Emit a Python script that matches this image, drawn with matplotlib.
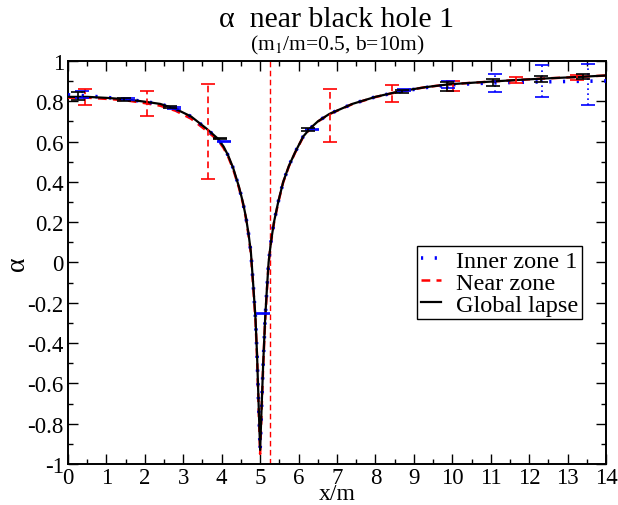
import matplotlib
matplotlib.use("Agg")
import matplotlib.pyplot as plt
from matplotlib.ticker import MultipleLocator

plt.rcParams.update({
    "font.family": ["Liberation Serif", "DejaVu Serif"],
    "mathtext.fontset": "stix",
    "font.size": 16,
    "axes.linewidth": 1.4,
    "xtick.direction": "in",
    "ytick.direction": "in",
    "xtick.top": True,
    "ytick.right": True,
    "xtick.major.size": 7,
    "ytick.major.size": 7,
    "xtick.minor.size": 3.5,
    "ytick.minor.size": 3.5,
    "xtick.major.width": 1.0,
    "ytick.major.width": 1.0,
    "xtick.minor.width": 1.0,
    "ytick.minor.width": 1.0,
})

# ---------------------------------------------------------------- data
x_curve = [0.0, 0.5, 1.0, 1.5, 2.0, 2.4, 2.8, 3.2, 3.6, 3.91, 4.05, 4.17,
           4.3, 4.45, 4.55, 4.63, 4.7, 4.76, 4.82, 4.88, 4.92, 4.96, 5.0,
           5.04, 5.08, 5.13, 5.17, 5.22, 5.28, 5.36, 5.47, 5.6, 5.75, 5.91,
           6.12, 6.3, 6.5, 6.8, 7.4, 8.0, 8.6, 9.3, 9.9, 10.6, 11.2, 11.9,
           12.5, 13.2, 14.0]
global_lapse = [0.822, 0.822, 0.817, 0.810, 0.798, 0.787, 0.762, 0.725, 0.665,
                0.613, 0.575, 0.530, 0.468, 0.375, 0.300, 0.225, 0.140, 0.050,
                -0.110, -0.280, -0.460, -0.700, -0.930, -0.710, -0.500, -0.280,
                -0.150, 0.000, 0.100, 0.200, 0.300, 0.400, 0.480, 0.547, 0.625,
                0.665, 0.700, 0.737, 0.787, 0.822, 0.848, 0.870, 0.884, 0.893,
                0.900, 0.908, 0.914, 0.920, 0.928]
near_zone = [0.818, 0.818, 0.812, 0.805, 0.791, 0.778, 0.753, 0.714, 0.655,
             0.605, 0.568, 0.524, 0.462, 0.370, 0.295, 0.220, 0.134, 0.043,
             -0.118, -0.290, -0.472, -0.715, -0.950, -0.725, -0.512, -0.290,
             -0.158, -0.006, 0.095, 0.196, 0.297, 0.398, 0.478, 0.545, 0.623,
             0.664, 0.699, 0.736, 0.786, 0.821, 0.847, 0.870, 0.884, 0.893,
             0.900, 0.908, 0.914, 0.920, 0.928]
inner_zone_1 = [0.832, 0.827, 0.819, 0.811, 0.798, 0.787, 0.762, 0.725, 0.665,
                0.613, 0.575, 0.530, 0.468, 0.375, 0.300, 0.225, 0.140, 0.050,
                -0.110, -0.280, -0.460, -0.700, -0.930, -0.710, -0.500, -0.280,
                -0.150, 0.000, 0.100, 0.200, 0.300, 0.400, 0.480, 0.547, 0.625,
                0.665, 0.700, 0.737, 0.787, 0.822, 0.847, 0.868, 0.881, 0.888,
                0.892, 0.895, 0.897, 0.899, 0.901]

# error bars: x, lower, upper
global_eb_x = [0.27, 1.45, 2.65, 3.95, 6.25, 8.7, 9.85, 11.05, 12.3, 13.4]
global_eb_lo = [0.808, 0.803, 0.765, 0.612, 0.655, 0.843, 0.850, 0.877, 0.897, 0.910]
global_eb_hi = [0.845, 0.817, 0.775, 0.618, 0.665, 0.857, 0.897, 0.910, 0.924, 0.934]

near_eb_x = [0.44, 2.05, 3.65, 6.83, 8.42, 10.03, 11.65, 13.24]
near_eb_lo = [0.782, 0.726, 0.415, 0.600, 0.795, 0.853, 0.889, 0.907]
near_eb_hi = [0.861, 0.853, 0.885, 0.860, 0.881, 0.902, 0.919, 0.930]

inner_eb_x = [0.36, 1.55, 2.75, 4.05, 5.07, 6.35, 8.75, 9.9, 11.1, 12.33, 13.52]
inner_eb_lo = [0.815, 0.806, 0.760, 0.597, -0.258, 0.656, 0.850, 0.868, 0.845, 0.823, 0.780]
inner_eb_hi = [0.850, 0.816, 0.770, 0.603, -0.252, 0.664, 0.860, 0.899, 0.937, 0.980, 0.985]

near_boundary_x = 5.25

# ---------------------------------------------------------------- plot
fig = plt.figure(figsize=(6.18, 5.06), dpi=100)
ax = fig.add_axes([0.110, 0.081, 0.8706, 0.7965])

ax.plot(x_curve, inner_zone_1, color="#0000ff", lw=2.6,
        linestyle=(0, (0.6, 3.2)), dash_capstyle="butt", label="Inner zone 1", zorder=4)
ax.plot(x_curve, near_zone, color="#ff0000", lw=1.8,
        linestyle=(0, (3.5, 2.5)), label="Near zone", zorder=3)
ax.plot(x_curve, global_lapse, color="black", lw=1.6, label="Global lapse", zorder=5)

ax.axvline(near_boundary_x, color="#ff0000", lw=1.0, linestyle=(0, (4, 2.5)), zorder=2)


def draw_errbars(xs, lo, hi, color, ls, z):
    mid = [(a + b) / 2 for a, b in zip(lo, hi)]
    err = [[m - a for m, a in zip(mid, lo)], [b - m for m, b in zip(mid, hi)]]
    cont = ax.errorbar(xs, mid, yerr=err, fmt="none", ecolor=color, elinewidth=1.2,
                       capsize=5, capthick=1.2, zorder=z)
    for lc in cont[2]:
        lc.set_linestyle(ls)


draw_errbars(near_eb_x, near_eb_lo, near_eb_hi, "#ff0000", (0, (4, 2.5)), 6)
draw_errbars(inner_eb_x, inner_eb_lo, inner_eb_hi, "#0000ff", (0, (1, 2)), 6)
draw_errbars(global_eb_x, global_eb_lo, global_eb_hi, "black", "-", 7)

ax.set_xlim(0, 14)
ax.set_ylim(-1, 1)
ax.xaxis.set_major_locator(MultipleLocator(1))
ax.xaxis.set_minor_locator(MultipleLocator(0.5))
ax.yaxis.set_minor_locator(MultipleLocator(0.1))
ax.set_yticks([-1, -0.8, -0.6, -0.4, -0.2, 0, 0.2, 0.4, 0.6, 0.8, 1])
ax.set_yticklabels(["-1", "-0.8", "-0.6", "-0.4", "-0.2", "0", "0.2", "0.4",
                    "0.6", "0.8", "1"])
ax.tick_params(axis="both", which="major", labelsize=16.5, pad=3)
ax.tick_params(axis="x", which="major", pad=2)

# x label sits on the bottom edge of the figure
fig.text(0.545, 0.002, "x/m", ha="center", va="bottom", fontsize=17)
ax.set_ylabel("α", fontsize=20)
ax.yaxis.set_label_coords(-0.07, 0.5)

fig.text(0.545, 0.9466, "α  near black hole 1", ha="center", va="baseline", fontsize=21.5)
fig.text(0.545, 0.901, "(m$_1$/m=0.5, b=10m)", ha="center", va="baseline", fontsize=15.5)

leg = ax.legend(loc="upper left", bbox_to_anchor=(0.6487, 0.541), fontsize=17.5,
                frameon=True, fancybox=False, framealpha=1, edgecolor="black",
                handlelength=0.85, handletextpad=0.6, borderpad=0.15,
                labelspacing=0.0, borderaxespad=0)
leg.get_frame().set_linewidth(1.0)

fig.savefig("out.png", dpi=100)
